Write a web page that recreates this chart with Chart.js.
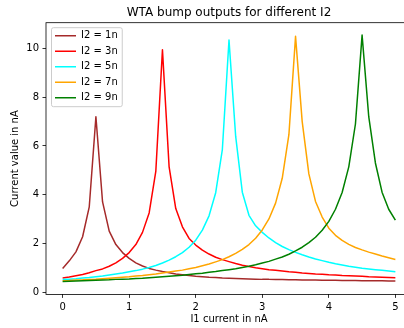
<!DOCTYPE html>
<html>
<head>
<meta charset="utf-8">
<script src="https://cdn.jsdelivr.net/npm/chart.js"></script>
<style>
  html, body { margin: 0; padding: 0; background: #fff; }
  #wrap { width: 404px; height: 328px; overflow: hidden; }
  #myChart { display: block; }
</style>
</head>
<body>
<div id="wrap"><canvas id="myChart" width="412" height="328"></canvas></div>
<script>
const xValues = [0, 0.1, 0.2, 0.3, 0.4, 0.5, 0.6, 0.7, 0.8, 0.9,
  1, 1.1, 1.2, 1.3, 1.4, 1.5, 1.6, 1.7, 1.8, 1.9,
  2, 2.1, 2.2, 2.3, 2.4, 2.5, 2.6, 2.7, 2.8, 2.9,
  3, 3.1, 3.2, 3.3, 3.4, 3.5, 3.6, 3.7, 3.8, 3.9,
  4, 4.1, 4.2, 4.3, 4.4, 4.5, 4.6, 4.7, 4.8, 4.9, 5]

const i2_1n = [0.97, 1.28, 1.65, 2.27, 3.5, 7.2, 3.7, 2.5, 1.95, 1.62,
  1.38, 1.2, 1.07, 0.97, 0.9, 0.84, 0.79, 0.74, 0.71, 0.68,
  0.65, 0.63, 0.61, 0.6, 0.58, 0.57, 0.56, 0.55, 0.54, 0.53,
  0.52, 0.52, 0.51, 0.51, 0.5, 0.5, 0.49, 0.49, 0.49, 0.48,
  0.48, 0.48, 0.47, 0.47, 0.47, 0.46, 0.46, 0.46, 0.46, 0.45, 0.45]

const i2_3n = [0.58, 0.62, 0.67, 0.72, 0.79, 0.88, 0.95, 1.06, 1.2, 1.38,
  1.62, 1.95, 2.45, 3.25, 4.95, 9.95, 5.14, 3.43, 2.68, 2.2,
  1.93, 1.72, 1.56, 1.43, 1.33, 1.25, 1.17, 1.1, 1.05, 1.0,
  0.96, 0.92, 0.89, 0.86, 0.83, 0.81, 0.78, 0.76, 0.74, 0.73,
  0.71, 0.7, 0.68, 0.67, 0.66, 0.65, 0.63, 0.62, 0.61, 0.6, 0.59]

const i2_5n = [0.51, 0.53, 0.55, 0.58, 0.6, 0.63, 0.66, 0.7, 0.74, 0.78,
  0.83, 0.88, 0.94, 1.01, 1.09, 1.19, 1.31, 1.45, 1.62, 1.84,
  2.13, 2.54, 3.13, 4.08, 5.85, 10.35, 6.4, 4.1, 3.15, 2.72,
  2.45, 2.22, 2.03, 1.87, 1.74, 1.63, 1.53, 1.44, 1.36, 1.29,
  1.22, 1.16, 1.11, 1.06, 1.02, 0.98, 0.95, 0.92, 0.89, 0.86, 0.83]

const i2_7n = [0.46, 0.47, 0.49, 0.5, 0.52, 0.53, 0.55, 0.57, 0.59, 0.61,
  0.63, 0.66, 0.68, 0.71, 0.74, 0.78, 0.82, 0.86, 0.9, 0.96,
  1.01, 1.08, 1.15, 1.24, 1.33, 1.45, 1.59, 1.75, 1.95, 2.21,
  2.55, 3.0, 3.65, 4.67, 6.46, 10.5, 7.0, 4.85, 3.72, 3.08,
  2.62, 2.33, 2.12, 1.96, 1.83, 1.73, 1.64, 1.56, 1.48, 1.41, 1.34]

const i2_9n = [0.43, 0.44, 0.45, 0.46, 0.47, 0.48, 0.49, 0.5, 0.52, 0.53,
  0.54, 0.56, 0.57, 0.59, 0.61, 0.63, 0.65, 0.67, 0.69, 0.72,
  0.75, 0.77, 0.81, 0.84, 0.88, 0.92, 0.96, 1.01, 1.06, 1.12,
  1.19, 1.26, 1.35, 1.44, 1.55, 1.69, 1.84, 2.03, 2.25, 2.54,
  2.9, 3.4, 4.09, 5.14, 6.9, 10.55, 7.2, 5.3, 4.1, 3.4, 2.95]

const seriesLabels = ['I2 = 1n', 'I2 = 3n', 'I2 = 5n', 'I2 = 7n', 'I2 = 9n']
const xTicks = [0, 1, 2, 3, 4, 5]
const yTicks = [0, 2, 4, 6, 8, 10]

const FONT = 'DejaVu Sans'
const toPoints = ys => xValues.map((x, i) => ({ x: x, y: ys[i] }))

function line(label, ys, color, order) {
  return {
    label: label,
    data: toPoints(ys),
    borderColor: color,
    backgroundColor: color,
    borderWidth: 1.5,
    pointRadius: 0,
    tension: 0,
    fill: false,
    borderJoinStyle: 'round',
    order: order
  }
}

// axes box on all four sides + the legend frame, matplotlib style
const frame = {
  id: 'frame',
  afterLayout(chart) {
    const l = chart.legend
    const a = chart.chartArea
    const w = l.right - l.left
    const h = l.bottom - l.top
    l.left = a.left + 3.5
    l.top = a.top + 2.5
    l.right = l.left + w
    l.bottom = l.top + h
  },
  beforeDraw(chart) {
    const hb = chart.legend.legendHitBoxes
    if (!hb || !hb.length) return
    let x0 = Infinity, y0 = Infinity, x1 = -Infinity, y1 = -Infinity
    hb.forEach(b => {
      x0 = Math.min(x0, b.left); y0 = Math.min(y0, b.top)
      x1 = Math.max(x1, b.left + b.width); y1 = Math.max(y1, b.top + b.height)
    })
    const ctx = chart.ctx
    ctx.save()
    ctx.beginPath()
    ctx.roundRect(x0 - 3.5, y0 - 3, x1 - x0 + 8, y1 - y0 + 7, 2)
    ctx.fillStyle = 'rgba(255,255,255,0.8)'
    ctx.fill()
    ctx.strokeStyle = '#cccccc'
    ctx.lineWidth = 1
    ctx.stroke()
    ctx.restore()
  },
  afterDraw(chart) {
    const { ctx, chartArea: a } = chart
    ctx.save()
    ctx.strokeStyle = '#000'
    ctx.lineWidth = 0.8
    ctx.strokeRect(a.left, a.top, a.right - a.left, a.bottom - a.top)
    ctx.restore()
  }
}

const ctx = document.getElementById('myChart')

new Chart(ctx, {
  type: 'line',
  data: {
    datasets: [
      line(seriesLabels[0], i2_1n, 'brown', 5),
      line(seriesLabels[1], i2_3n, 'red', 4),
      line(seriesLabels[2], i2_5n, 'cyan', 3),
      line(seriesLabels[3], i2_7n, 'orange', 2),
      line(seriesLabels[4], i2_9n, 'green', 1)
    ]
  },
  plugins: [frame],
  options: {
    responsive: false,
    animation: false,
    events: [],
    layout: { padding: 0 },
    scales: {
      x: {
        type: 'linear',
        min: -0.25,
        max: 5.25,
        afterBuildTicks: s => { s.ticks = xTicks.map(v => ({ value: v })) },
        afterFit: s => { s.height = 33.6 },
        grid: { display: true, drawOnChartArea: false, drawTicks: true, tickLength: 3.5, color: '#000', lineWidth: 0.8 },
        border: { display: false },
        ticks: { padding: 3.5, color: '#000', font: { family: FONT, size: 10 }, maxRotation: 0 },
        title: { display: true, text: 'I1 current in nA', color: '#000', font: { family: FONT, size: 10 }, padding: { top: 0, bottom: 3 } }
      },
      y: {
        type: 'linear',
        min: -0.097,
        max: 11.06,
        afterBuildTicks: s => { s.ticks = yTicks.map(v => ({ value: v })) },
        afterFit: s => { s.width = 46 },
        grid: { display: true, drawOnChartArea: false, drawTicks: true, tickLength: 3.5, color: '#000', lineWidth: 0.8 },
        border: { display: false },
        ticks: { padding: 3.5, color: '#000', font: { family: FONT, size: 10 } },
        title: { display: true, text: 'Current value in nA', color: '#000', font: { family: FONT, size: 10 }, padding: { top: 9, bottom: 0 } }
      }
    },
    plugins: {
      title: {
        display: true,
        text: 'WTA bump outputs for different I2',
        color: '#000',
        fullSize: false,
        font: { family: FONT, size: 12, weight: 'normal' },
        padding: { top: 5.5, bottom: 2.8 }
      },
      legend: {
        position: 'chartArea',
        align: 'start',
        labels: {
          boxWidth: 21,
          boxHeight: 1.5,
          padding: 5.5,
          color: '#000',
          font: { family: FONT, size: 10 },
          sort: (a, b) => a.datasetIndex - b.datasetIndex,
          generateLabels: chart => Chart.defaults.plugins.legend.labels.generateLabels(chart)
            .map(item => Object.assign(item, { lineWidth: 0, fillStyle: item.strokeStyle }))
        }
      },
      tooltip: { enabled: false }
    }
  }
})
</script>
</body>
</html>
